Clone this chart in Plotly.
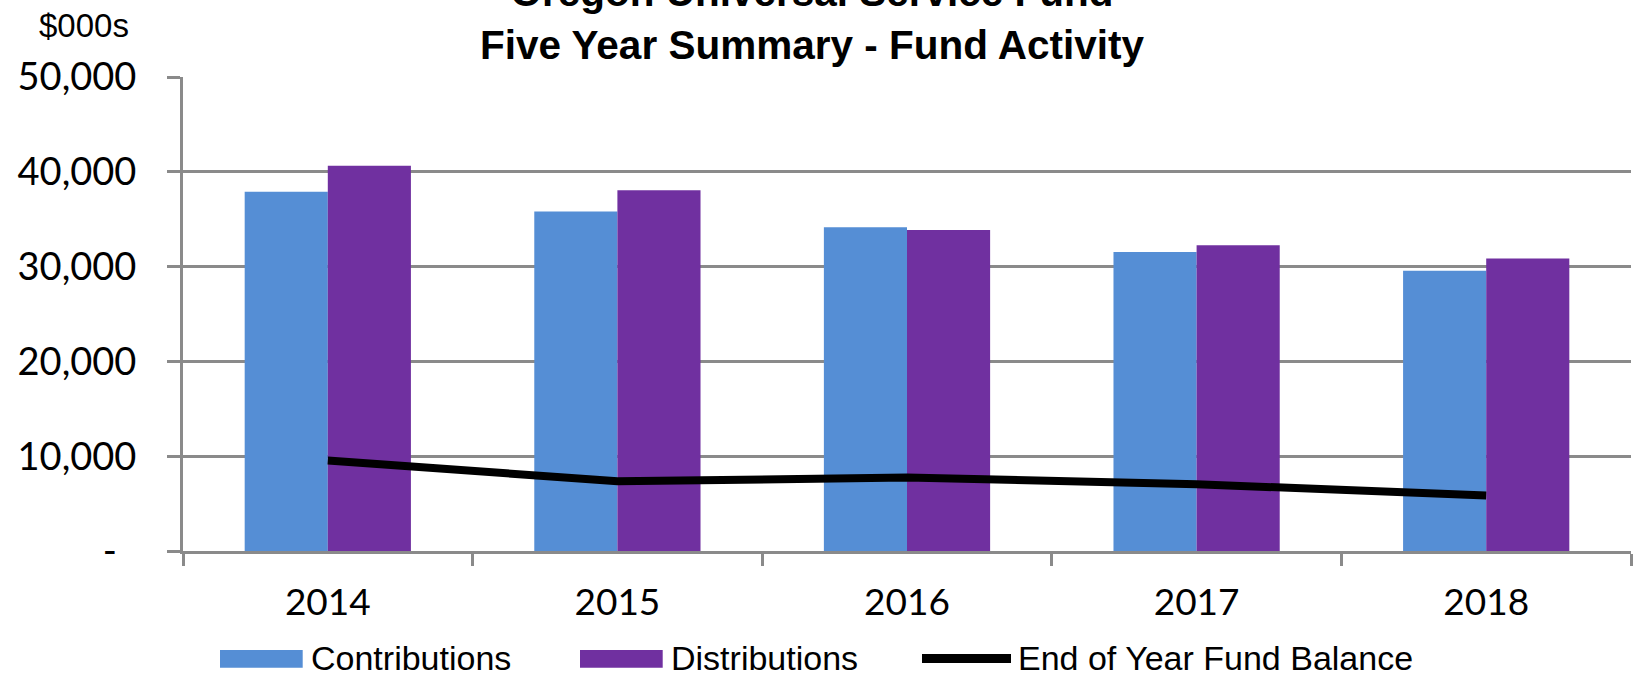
import plotly.graph_objects as go

# ---- data ----
years = ["2014", "2015", "2016", "2017", "2018"]
contributions = [37900, 35800, 34150, 31550, 29550]
distributions = [40650, 38050, 33850, 32250, 30850]
fund_balance = [9550, 7350, 7750, 7050, 5850]

y_tick_vals = [0, 10000, 20000, 30000, 40000, 50000]
y_tick_text = ["-\u00a0\u00a0", "10,000", "20,000", "30,000", "40,000", "50,000"]

series_names = ["Contributions", "Distributions", "End of Year Fund Balance"]
title_lines = ["Oregon Universal Service Fund", "Five Year Summary - Fund Activity"]
unit_label = "$000s"

# ---- style ----
BLUE = "#558ED5"
PURPLE = "#7030A0"
GRID = "#8a8a8a"
W, H = 1633, 676
L, R, T, B = 183, 2, 77, 125
PW, PH = W - L - R, H - T - B


def xp(px):
    return (px - L) / PW


def yp(py):
    return (H - B - py) / PH


fig = go.Figure()
fig.add_trace(go.Bar(x=years, y=contributions, name=series_names[0],
                     marker=dict(color=BLUE, line=dict(width=0)), showlegend=False))
fig.add_trace(go.Bar(x=years, y=distributions, name=series_names[1],
                     marker=dict(color=PURPLE, line=dict(width=0)), showlegend=False))
fig.add_trace(go.Scatter(x=years, y=fund_balance, name=series_names[2], mode="lines",
                         line=dict(color="black", width=8), showlegend=False))

fig.update_layout(
    width=W, height=H,
    margin=dict(l=L, r=R, t=T, b=B, pad=0),
    paper_bgcolor="white", plot_bgcolor="white",
    barmode="group", bargap=0.426, bargroupgap=0,
    font=dict(family="Lato", color="black", size=36),
)

fig.update_xaxes(
    type="category", tickson="boundaries", showgrid=False,
    showline=True, linecolor=GRID, linewidth=3,
    ticks="outside", ticklen=12, tickwidth=3, tickcolor=GRID,
    tickfont=dict(family="Lato", size=37, color="black"),
    ticklabelstandoff=17,
)
fig.update_yaxes(
    range=[0, 50000], tickvals=y_tick_vals, ticktext=y_tick_text,
    showgrid=True, gridcolor=GRID, gridwidth=3, zeroline=False,
    showline=True, linecolor=GRID, linewidth=3,
    ticks="outside", ticklen=13, tickwidth=3, tickcolor=GRID,
    tickfont=dict(family="Lato", size=38, color="black"),
    ticklabelstandoff=23,
)

annotations = [
    dict(text="<b>" + title_lines[0] + "</b><br><b>" + title_lines[1] + "</b>",
         xref="paper", yref="paper", x=xp(812), y=yp(18), xanchor="center", yanchor="middle",
         showarrow=False, font=dict(family="Liberation Sans", size=40.5, color="black")),
    dict(text=unit_label, xref="paper", yref="paper", x=xp(131), y=yp(25),
         xanchor="right", yanchor="middle", showarrow=False,
         font=dict(family="Liberation Sans", size=33, color="black")),
]

# custom legend
legend_y = 657.5
shapes = [
    dict(type="rect", xref="paper", yref="paper", x0=xp(220), x1=xp(302.7), y0=yp(650), y1=yp(667.7),
         fillcolor=BLUE, line=dict(width=0)),
    dict(type="rect", xref="paper", yref="paper", x0=xp(580), x1=xp(662.7), y0=yp(650), y1=yp(667.7),
         fillcolor=PURPLE, line=dict(width=0)),
    dict(type="line", xref="paper", yref="paper", x0=xp(922), x1=xp(1011), y0=yp(legend_y + 1), y1=yp(legend_y + 1),
         line=dict(color="black", width=9)),
]
for name, x0 in zip(series_names, [309, 669, 1016]):
    annotations.append(dict(text=name, xref="paper", yref="paper", x=xp(x0), y=yp(legend_y),
                            xanchor="left", yanchor="middle", showarrow=False,
                            font=dict(family="Liberation Sans", size=34, color="black")))

fig.update_layout(annotations=annotations, shapes=shapes)

fig.write_html(
    "out.html",
    config={"displayModeBar": False},
    post_script="document.body.style.margin='0';document.body.style.overflow='hidden';",
)
